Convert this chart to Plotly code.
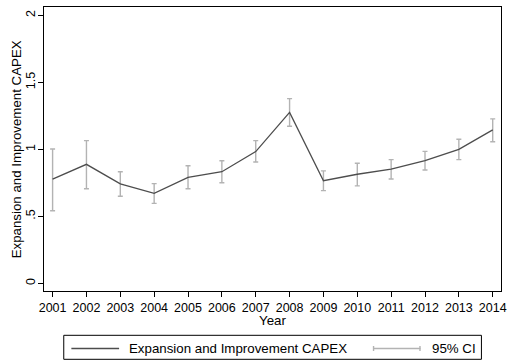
import plotly.graph_objects as go

# Expansion and improvement CAPEX by year, with 95% confidence bounds
years = [2001, 2002, 2003, 2004, 2005, 2006, 2007, 2008, 2009, 2010, 2011, 2012, 2013, 2014]
capex = [0.778, 0.889, 0.743, 0.673, 0.792, 0.834, 0.984, 1.277, 0.767, 0.815, 0.854, 0.917, 1.001, 1.146]
ci_upper = [1.004, 1.066, 0.834, 0.745, 0.879, 0.916, 1.066, 1.379, 0.840, 0.897, 0.924, 0.986, 1.076, 1.228]
ci_lower = [0.543, 0.707, 0.651, 0.598, 0.707, 0.752, 0.907, 1.173, 0.693, 0.728, 0.780, 0.847, 0.924, 1.058]

y_ticks = [0, 0.5, 1, 1.5, 2]
y_tick_labels = ["0", ".5", "1", "1.5", "2"]

y_title = "Expansion and Improvement CAPEX"
x_title = "Year"
legend_line = "Expansion and Improvement CAPEX"
legend_ci = "95% CI"

LINE_COLOR = "#4d4d4d"
CI_COLOR = "#b3b3b3"
FONT = "Liberation Sans, Arial, Helvetica, sans-serif"
TICK_SIZE = 12.5
TEXT_SIZE = 13.3

W, H = 511, 360
ML, MR, MT, MB = 44, 4.5, 7, 69
PW, PH = W - ML - MR, H - MT - MB


def px(x):
    """Pixel x -> paper x."""
    return (x - ML) / PW


def py(y):
    """Pixel y (from top) -> paper y."""
    return (H - MB - y) / PH


err_plus = [u - v for u, v in zip(ci_upper, capex)]
err_minus = [v - l for v, l in zip(capex, ci_lower)]

fig = go.Figure()

# confidence interval caps
fig.add_trace(go.Scatter(
    x=years, y=capex, mode="markers",
    marker=dict(size=0.1, color="rgba(0,0,0,0)"),
    error_y=dict(type="data", symmetric=False, array=err_plus, arrayminus=err_minus,
                 color=CI_COLOR, thickness=1.4, width=2.5),
    showlegend=False, hoverinfo="skip",
))

# mean line
fig.add_trace(go.Scatter(
    x=years, y=capex, mode="lines",
    line=dict(color=LINE_COLOR, width=1.3),
    showlegend=False,
))

fig.update_xaxes(
    range=[2000.746, 2014.245],
    tickvals=years, ticktext=[str(y) for y in years],
    ticks="outside", ticklen=5, tickcolor="black", tickwidth=1,
    ticklabeloverflow="allow",
    showline=True, linecolor="black", linewidth=1, mirror=True,
    showgrid=False, zeroline=False,
    tickfont=dict(family=FONT, size=TICK_SIZE, color="black"),
)
fig.update_yaxes(
    range=[-0.056, 2.063],
    tickvals=y_ticks, ticktext=y_tick_labels, tickangle=-90,
    ticks="outside", ticklen=5, tickcolor="black", tickwidth=1,
    ticklabelstandoff=-2,
    showline=True, linecolor="black", linewidth=1, mirror=True,
    showgrid=False, zeroline=False,
    tickfont=dict(family=FONT, size=TICK_SIZE, color="black"),
)

annotations = [
    dict(text=y_title, textangle=-90, x=px(16), y=0.5, xref="paper", yref="paper",
         showarrow=False, xanchor="center", yanchor="middle",
         font=dict(family=FONT, size=TEXT_SIZE, color="black")),
    dict(text=x_title, x=0.5 * (px(52.7) + px(498.3)), y=py(320.5), xref="paper", yref="paper",
         showarrow=False, xanchor="center", yanchor="middle",
         font=dict(family=FONT, size=TEXT_SIZE, color="black")),
    dict(text=legend_line, x=px(128.3), y=py(348.5), xref="paper", yref="paper",
         showarrow=False, xanchor="left", yanchor="middle",
         font=dict(family=FONT, size=TEXT_SIZE, color="black")),
    dict(text=legend_ci, x=px(435), y=py(348.5), xref="paper", yref="paper",
         showarrow=False, xanchor="left", yanchor="middle",
         font=dict(family=FONT, size=TEXT_SIZE, color="black")),
]

legend_y = py(348.5)
shapes = [
    # legend box
    dict(type="rect", xref="paper", yref="paper", x0=px(64), x1=px(486.7), y0=py(335.3), y1=py(359.3),
         line=dict(color="black", width=1), fillcolor="rgba(0,0,0,0)", layer="above"),
    # line sample
    dict(type="line", xref="paper", yref="paper", x0=px(71.7), x1=px(120), y0=legend_y, y1=legend_y,
         line=dict(color=LINE_COLOR, width=1.3)),
    # CI sample
    dict(type="line", xref="paper", yref="paper", x0=px(377), x1=px(425), y0=legend_y, y1=legend_y,
         line=dict(color=CI_COLOR, width=1.4)),
    dict(type="line", xref="paper", yref="paper", x0=px(377.5), x1=px(377.5), y0=py(346), y1=py(351),
         line=dict(color=CI_COLOR, width=1.4)),
    dict(type="line", xref="paper", yref="paper", x0=px(424.5), x1=px(424.5), y0=py(346), y1=py(351),
         line=dict(color=CI_COLOR, width=1.4)),
]

fig.update_layout(
    width=W, height=H,
    margin=dict(l=ML, r=MR, t=MT, b=MB, pad=0),
    paper_bgcolor="white", plot_bgcolor="white",
    showlegend=False,
    annotations=annotations, shapes=shapes,
    font=dict(family=FONT, size=TEXT_SIZE, color="black"),
)

fig.write_html("out.html")
